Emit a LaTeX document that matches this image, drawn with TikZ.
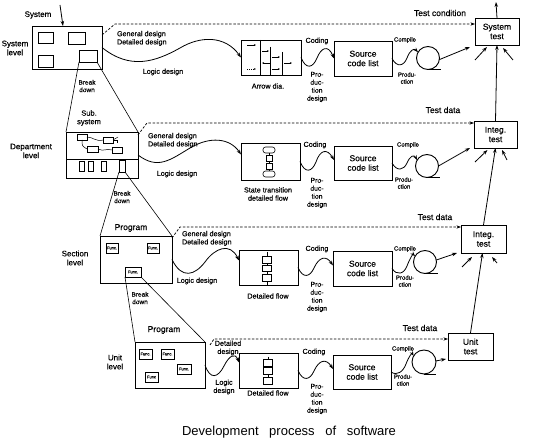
\documentclass[tikz,border=0pt]{standalone}
\usepackage{fontspec}
\setmainfont{Liberation Sans}[FakeBold=0.3]
\newfontfamily\captionfont{Liberation Sans}
\usetikzlibrary{arrows.meta}
\begin{document}
\begin{tikzpicture}[x=1pt,y=-1pt,
  every node/.style={inner sep=0pt,outer sep=0pt},
  frame/.style={draw,line width=0.9pt,anchor=north west},
  inbox/.style={draw,line width=0.7pt,anchor=north west},
  funcbox/.style={draw,line width=0.6pt,anchor=north west,font=\fontsize{4}{4}\selectfont},
  tape/.style={draw,circle,line width=0.9pt,minimum size=23pt},
  lbl/.style={font=\fontsize{7.2}{8.2}\selectfont,align=center},
  lbll/.style={font=\fontsize{7.2}{8.2}\selectfont,align=left,anchor=north west},
  small/.style={font=\fontsize{6}{7}\selectfont,align=center},
  lvl/.style={font=\fontsize{8}{9}\selectfont,align=center},
  big/.style={font=\fontsize{8.5}{9.5}\selectfont,align=center},
  thinline/.style={line width=0.6pt},
  wave/.style={line width=0.8pt},
  arr/.style={-{Stealth[length=5pt,width=3.5pt]},line width=0.8pt},
  miniarr/.style={-{Stealth[length=2.2pt,width=1.8pt]},line width=0.5pt},
  dashline/.style={dashed,dash pattern=on 2.5pt off 1.6pt,line width=0.7pt,-{Stealth[length=4.5pt,width=3.2pt]}}]
\useasboundingbox (0,0) rectangle (542,441);

% ---------------- levels on the left ----------------
\node[frame,minimum width=70pt,minimum height=43pt] (sys) at (32,26) {};
\node[inbox,minimum width=15pt,minimum height=11pt] (s1) at (38,32) {};
\node[inbox,minimum width=17pt,minimum height=12pt] (s2) at (68,32) {};
\node[inbox,minimum width=15pt,minimum height=12pt] (s3) at (38,55) {};
\node[inbox,minimum width=18pt,minimum height=12pt] (s4) at (79,50) {};
\node[lvl] (sysname) at (38,15) {System};
\coordinate (sysin) at (60,5);
\draw[arr] (sysin) -- ([xshift=-4pt]sys.north);
\node[lvl] (syslvl) at (15,48) {System\\level};
\node[small,font=\fontsize{6.5}{7.5}\selectfont] (bd1) at (87,86) {Break\\down};

\node[frame,minimum width=72pt,minimum height=46pt] (sub) at (66,132) {};
\node[lvl,font=\fontsize{7.5}{8.5}\selectfont] (subname) at (89,118) {Sub.\\system};
\draw[thinline] (s4.south west) -- (sub.north west);
\draw[thinline] (s4.south east) -- (sub.north east);
\draw[thinline] ([yshift=-27pt]sub.north west) -- ([yshift=-27pt]sub.north east);
\node[inbox,line width=0.6pt,minimum width=10pt,minimum height=6pt] (a1) at (77,134) {};
\node[inbox,line width=0.6pt,minimum width=10pt,minimum height=6pt] (a2) at (103,137) {};
\node[inbox,line width=0.6pt,minimum width=11pt,minimum height=6pt] (a3) at (87,146) {};
\node[inbox,line width=0.6pt,minimum width=10pt,minimum height=6pt] (a4) at (112,147) {};
\draw[line width=0.5pt] (a1.east) .. controls (93,137) and (96,142) .. (a2.west);
\draw[line width=0.5pt] (a1.south) .. controls (82,146) .. (a3.west);
\draw[line width=0.5pt] (a3.east) .. controls (104,152) and (106,148) .. (a4.west);
\draw[line width=0.5pt] (a2.east) -- (117,140) -- (117,143);
\draw[line width=0.5pt] (a2.east) -- (118,137);
\node[inbox,line width=0.6pt,minimum width=5pt,minimum height=10pt] (r1) at (79,161) {};
\node[inbox,line width=0.6pt,minimum width=5pt,minimum height=10pt] (r2) at (88,161) {};
\node[inbox,line width=0.6pt,minimum width=5pt,minimum height=10pt] (r3) at (101,161) {};
\node[inbox,line width=0.6pt,minimum width=6pt,minimum height=12pt] (r4) at (119,160) {};
\node[lvl] (deplvl) at (31,151) {Department\\level};
\node[small,font=\fontsize{6.5}{7.5}\selectfont] (bd2) at (122,197) {Break\\down};

\node[frame,minimum width=72pt,minimum height=47pt] (sec) at (100,236) {};
\node[big] (prog1) at (131,228) {Program};
\draw[thinline] (r4.south west) -- (sec.north west);
\draw[thinline] (r4.south east) -- (sec.north east);
\node[funcbox,minimum width=12pt,minimum height=10pt] (f1) at (106,243) {Func.};
\node[funcbox,minimum width=12pt,minimum height=10pt] (f2) at (147,243) {Func.};
\node[funcbox,minimum width=16pt,minimum height=10pt] (f3) at (125,267) {Func.};
\node[lvl] (seclvl) at (75,258) {Section\\level};
\node[small,font=\fontsize{6.5}{7.5}\selectfont] (bd3) at (140,298) {Break\\down};

\node[frame,minimum width=70pt,minimum height=46pt] (unit) at (135,342) {};
\node[big] (prog2) at (164,330) {Program};
\draw[thinline] (f3.south west) -- (unit.north west);
\draw[thinline] (f3.south east) -- (unit.north east);
\node[funcbox,minimum width=13pt,minimum height=10pt] (u1) at (139,349) {Func.};
\node[funcbox,minimum width=13pt,minimum height=10pt] (u2) at (161,349) {Func.};
\node[funcbox,minimum width=14pt,minimum height=10pt] (u3) at (177,364) {Func.};
\node[funcbox,minimum width=13pt,minimum height=10pt] (u4) at (145,372) {Func};
\node[lvl] (unitlvl) at (115,362) {Unit\\level};

% ---------------- design documents ----------------
\node[frame,minimum width=60pt,minimum height=35pt] (ad) at (241,40) {};
\draw[thinline] (260,40) -- (260,75);
\draw[thinline] (270,47) -- (270,75);
\draw[thinline] (282,52) -- (282,75);
\draw[miniarr] (247,45) -- (256,45);
\draw[miniarr,dashed,dash pattern=on 1pt off 1pt] (247,69) -- (256,69);
\draw[miniarr] (262,51) -- (269,51);
\draw[miniarr] (272,57) -- (280,57);
\draw[miniarr] (270,63) -- (262,63);
\draw[miniarr] (284,63) -- (292,63);
\draw[miniarr] (272,69) -- (280,69);
\node[lbl] (adlbl) at (268,86) {Arrow dia.};

\node[frame,minimum width=59pt,minimum height=37pt] (st) at (241,143) {};
\draw[line width=0.5pt] (269,147) -- (269,177);
\node[draw,fill=white,line width=0.6pt,rounded corners=2.5pt,minimum width=12pt,minimum height=6pt] (sr1) at (269,150) {};
\node[draw,fill=white,line width=0.6pt,minimum width=6pt,minimum height=6pt] (sr2) at (269,158) {};
\node[draw,fill=white,line width=0.6pt,minimum width=6pt,minimum height=6pt] (sr3) at (269,166) {};
\node[draw,fill=white,line width=0.6pt,rounded corners=2.5pt,minimum width=12pt,minimum height=6pt] (sr4) at (269,174) {};
\node[lbl] (stlbl) at (268,194) {State transition\\detailed flow};

\node[frame,minimum width=59pt,minimum height=35pt] (df3) at (239,250) {};
\draw[line width=0.5pt] (267,252) -- (267,285);
\node[draw,fill=white,line width=0.6pt,minimum width=9pt,minimum height=6.5pt] (d31) at (267,260) {};
\node[draw,fill=white,line width=0.6pt,minimum width=9pt,minimum height=6.5pt] (d32) at (267,268.5) {};
\node[draw,fill=white,line width=0.6pt,minimum width=9pt,minimum height=6.5pt] (d33) at (267,278) {};
\node[lbl] (df3lbl) at (268,296) {Detailed flow};

\node[frame,minimum width=59pt,minimum height=35pt] (df4) at (239,353) {};
\draw[line width=0.5pt] (268,357) -- (268,384);
\node[draw,fill=white,line width=0.6pt,minimum width=9pt,minimum height=6.5pt] (d41) at (268,363) {};
\node[draw,fill=white,line width=0.6pt,minimum width=9pt,minimum height=6.5pt] (d42) at (268,371) {};
\node[draw,fill=white,line width=0.6pt,minimum width=9pt,minimum height=6.5pt] (d43) at (268,381) {};
\node[lbl] (df4lbl) at (268,393) {Detailed flow};

% ---------------- source code lists ----------------
\node[frame,minimum width=58pt,minimum height=35pt,big] (src1) at (334,41) {};
\node[big] at (src1.center) {Source\\code list};
\node[frame,minimum width=58pt,minimum height=34pt] (src2) at (334,146) {};
\node[big] at (src2.center) {Source\\code list};
\node[frame,minimum width=59pt,minimum height=35pt] (src3) at (333,251) {};
\node[big] at (src3.center) {Source\\code list};
\node[frame,minimum width=58pt,minimum height=34pt] (src4) at (333,355) {};
\node[big] at (src4.center) {Source\\code list};

% ---------------- object tapes ----------------
\node[tape] (c1) at (428,58) {};
\node[tape] (c2) at (427,166) {};
\node[tape] (c3) at (425,262) {};
\node[tape,minimum size=24pt] (c4) at (424,362) {};
\draw[line width=0.8pt] (c1.south) -- ++(13,0);
\draw[line width=0.8pt] (c2.south) -- ++(13,0);
\draw[line width=0.8pt] (c3.south) -- ++(13,0);
\draw[line width=0.8pt] (c4.south) -- ++(12,0);

% ---------------- tests ----------------
\node[frame,minimum width=44pt,minimum height=27pt,big] (t1) at (475,18) {System\\test};
\node[frame,minimum width=43pt,minimum height=27pt,big] (t2) at (474,121) {Integ.\\test};
\node[frame,minimum width=45pt,minimum height=28pt,big] (t3) at (461,225) {Integ.\\test};
\node[frame,minimum width=45pt,minimum height=27pt,big] (t4) at (448,333) {Unit\\test};

\coordinate (t1up) at (496,2);
\draw[arr] (t1.north) -- (t1up);
\draw[arr] (t2.north) -- (t1.south);
\draw[arr] (t3.north) -- (t2.south);
\draw[arr] (t4.north) -- ([xshift=-1pt]t3.south);

\coordinate (t1l) at (475,60);
\coordinate (t1r) at (513,60);
\coordinate (t2l) at (475,162);
\coordinate (t2r) at (507,160);
\coordinate (t3l) at (462,267);
\coordinate (t3r) at (497,263);
\draw[arr] (t1l) -- ([xshift=-10pt,yshift=-2pt]t1.south);
\draw[arr] (t1r) -- ([xshift=6pt,yshift=-3pt]t1.south);
\draw[arr] (t2l) -- ([xshift=-8pt,yshift=-2pt]t2.south);
\draw[arr] (t2r) -- ([xshift=6.5pt,yshift=-2pt]t2.south);
\draw[arr] (t3l) -- ([xshift=-11.5pt,yshift=-4pt]t3.south);
\draw[arr] (t3r) -- ([xshift=8.5pt,yshift=-4pt]t3.south);

\draw[arr] (c1.-8) -- ([xshift=-5pt,yshift=-2pt]t1.south west);
\draw[arr] (c2.0) -- ([xshift=-4pt]t2.south west);
\draw[arr] (c3.10) -- ([xshift=-4pt]t3.south west);
\draw[arr] (c4.5) -- ([xshift=-2pt,yshift=1pt]t4.south west);

% ---------------- test conditions (dashed) ----------------
\draw[dashline] ([yshift=-9pt]sys.north east) -- (115,24) -- ([yshift=-6pt]t1.north west);
\draw[dashline] ([yshift=-3pt]sub.north east) -- (147,123) -- ([yshift=-2pt]t2.north west);
\draw[dashline] ([yshift=-2pt]sec.north east) -- (180,227) -- ([yshift=-2pt]t3.north west);
\draw[dashline] ([xshift=5pt,yshift=-3pt]unit.north east) -- (214,339) -- ([yshift=-6pt]t4.north west);
\node[big] (tc1) at (440,13) {Test condition};
\node[big] (td2) at (443,110) {Test data};
\node[big] (td3) at (435,217) {Test data};
\node[big] (td4) at (420,328) {Test data};

% ---------------- logic design curves ----------------
\draw[wave,arr] (sys.east) .. controls (130,70) and (155,62) .. (180,48) .. controls (200,36) and (225,35) .. (ad.west);
\draw[wave,arr] (sub.east) .. controls (158,170) and (170,160) .. (190,148) .. controls (210,136) and (230,138) .. ([yshift=7pt]st.west);
\draw[wave,arr] (sec.east) .. controls (182,280) and (195,275) .. (205,262) .. controls (215,248) and (230,242) .. ([yshift=7pt]df3.west);
\draw[wave,arr] (unit.east) .. controls (210,380) and (218,378) .. (224,366) .. controls (229,356) and (235,352) .. ([yshift=8pt]df4.west);
\node[lbll] (gd1) at (117,31) {General design\\Detailed design};
\node[lbl] (ld1) at (163,72) {Logic design};
\node[lbll] (gd2) at (148,133) {General design\\Detailed design};
\node[lbl] (ld2) at (177,174) {Logic design};
\node[lbll] (gd3) at (182,231) {General design\\Detailed design};
\node[lbl] (ld3) at (197,281) {Logic design};
\node[lbl] (gd4) at (228,348) {Detailed\\design};
\node[lbl] (ld4) at (224,387) {Logic\\design};

% ---------------- coding curves ----------------
\draw[wave,arr] (ad.east) .. controls (306,70) and (313,68) .. (317,58) .. controls (321,48) and (328,44) .. (src1.west);
\draw[wave,arr] (st.east) .. controls (305,174) and (312,172) .. (316,162) .. controls (320,150) and (327,148) .. ([yshift=3pt]src2.west);
\draw[wave,arr] (df3.east) .. controls (303,279) and (310,277) .. (314,268) .. controls (319,257) and (326,255) .. ([yshift=3pt]src3.west);
\draw[wave,arr] (df4.east) .. controls (303,382) and (310,380) .. (314,371) .. controls (319,360) and (326,358) .. ([yshift=3pt]src4.west);
\node[lbl] (cd1) at (317,41) {Coding};
\node[lbl] (cd2) at (315,145) {Coding};
\node[lbl] (cd3) at (317,249) {Coding};
\node[lbl] (cd4) at (314,352) {Coding};
\node[lbl,font=\fontsize{6.8}{8}\selectfont] (pd1) at (317,87) {Pro-\\duc-\\tion\\design};
\node[lbl,font=\fontsize{6.8}{8}\selectfont] (pd2) at (317,193) {Pro-\\duc-\\tion\\design};
\node[lbl,font=\fontsize{6.8}{8}\selectfont] (pd3) at (317,297) {Pro-\\duc-\\tion\\design};
\node[lbl,font=\fontsize{6.8}{8}\selectfont] (pd4) at (317,399) {Pro-\\duc-\\tion\\design};

% ---------------- compile curves ----------------
\draw[wave,arr] (src1.east) .. controls (397,68) and (404,66) .. (407,58) .. controls (410,50) and (414,48) .. (c1.150);
\draw[wave,arr] (src2.east) .. controls (397,172) and (404,170) .. (407,163) .. controls (410,156) and (414,154) .. (c2.150);
\draw[wave,arr] (src3.east) .. controls (397,276) and (404,274) .. (407,266) .. controls (410,258) and (413,254) .. (c3.150);
\draw[wave,arr] (src4.east) .. controls (397,376) and (403,372) .. (406,364) .. controls (409,356) and (412,353) .. (c4.150);
\node[small] (cp1) at (405,40) {Compile};
\node[small] (cp2) at (408,145) {Compile};
\node[small] (cp3) at (405,249) {Compile};
\node[small] (cp4) at (403,349) {Compile};
\node[small] (pr1) at (407,78) {Produ-\\ction};
\node[small] (pr2) at (404,183) {Produ-\\ction};
\node[small] (pr3) at (405,281) {Produ-\\ction};
\node[small] (pr4) at (403,380) {Produ-\\ction};

% ---------------- caption ----------------
\node[font=\captionfont\fontsize{13}{15}\selectfont] (cap) at (289,432) {Development\hspace{7pt} process\hspace{7pt} of\hspace{7pt} software};
\end{tikzpicture}
\end{document}
